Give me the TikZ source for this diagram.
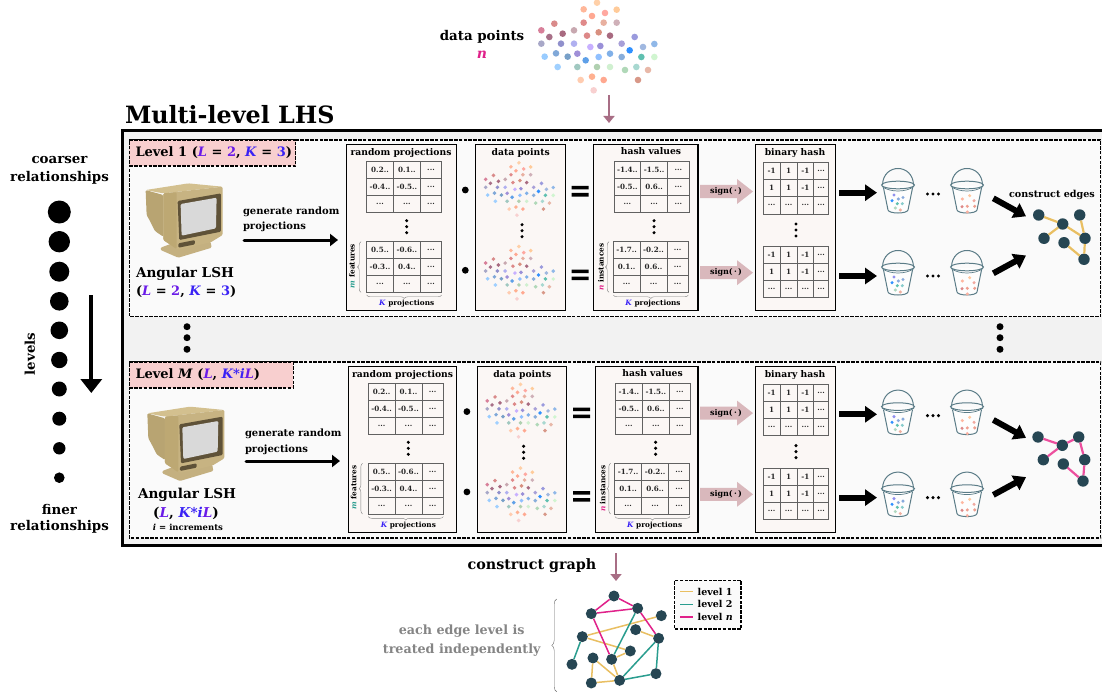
\documentclass[tikz,border=0pt]{standalone}
\usepackage{fontspec}
\setmainfont{DejaVu Serif}
\usetikzlibrary{arrows.meta,decorations.pathreplacing}
\definecolor{nodeC}{HTML}{264653}
\definecolor{goldC}{HTML}{E9BF62}
\definecolor{tealC}{HTML}{2A9D8F}
\definecolor{pinkC}{HTML}{E0218A}
\definecolor{pinkE}{HTML}{EC4F9E}
\definecolor{purpC}{HTML}{6A1BE8}
\definecolor{blueC}{HTML}{3A22F5}
\definecolor{mauveC}{HTML}{A86E85}
\definecolor{signC}{HTML}{D9B8BC}
\definecolor{tagC}{HTML}{F8CFCF}
\definecolor{panelC}{HTML}{FBF7F5}
\definecolor{bucketC}{HTML}{5B7C87}
\definecolor{beigeD}{HTML}{B8A472}
\definecolor{beigeS}{HTML}{BDA873}
\definecolor{beigeF}{HTML}{C4B080}
\definecolor{beigeL}{HTML}{D3C08F}
\definecolor{beigeM}{HTML}{C7B382}
\definecolor{beigeDD}{HTML}{5F5238}
\newcounter{nid}
\newcommand\fsz[1]{\fontsize{#1}{#1}\selectfont\bfseries}
\newcommand\vL{\textcolor{purpC}{\textit{L}}}
\newcommand\vK{\textcolor{blueC}{\textit{K}}}
\def\ddd{...}
\tikzset{
  x=1pt,y=-1pt,
  auto name/.code={\stepcounter{nid}\tikzset{name=auto\arabic{nid}}},
  every node/.append style={auto name,inner sep=0pt,outer sep=0pt},
  txt/.style={font=\fsz{#1}},
  gridline/.style={draw=black!62,line width=0.9pt},
  cell/.style={font=\fsz{7.2},text=black!85},
  panelbox/.style={draw=black,line width=1.3pt,fill=panelC},
  levelbox/.style={draw=black,line width=1.2pt,dash pattern=on 3.5pt off 1.3pt,fill=white!98!black},
  tagbox/.style={draw=black,line width=1.1pt,dash pattern=on 3.5pt off 1.3pt,fill=tagC},
  thickarrow/.style={line width=6pt,-{Triangle[length=12pt,width=16pt]}},
  genarrow/.style={line width=3pt,line cap=round,-{Triangle[length=8pt,width=12pt]}},
  mauvearrow/.style={draw=mauveC,line width=2.4pt,-{Triangle[length=7pt,width=11pt]}},
  gnode/.style={circle,fill=nodeC,minimum size=#1},
  thinbrace/.style={draw=black!50,line width=0.4pt,decorate,decoration={brace,amplitude=3.5pt}},
}
\newcommand\cloud[3]{%
\begin{scope}[shift={(#1,#2)},scale=#3]
\foreach \x/\y/\c in {531/8/FFD0A8,491/28/FFB79A,590/29/FFCB9A,516/48/FFA892,555/39/FFA8A0,403/71/D98A8A,491/68/E08A8A,551/68/E8B0A0,590/68/CFB0B8,364/91/D8809A,388/111/A87088,428/101/A86A80,462/91/C8A8B0,501/107/DD8888,536/97/D89080,570/107/A86A80,644/111/9A9ADD,364/131/A8A8C8,423/131/9090CC,462/131/B0B0F0,511/141/C8B0FF,541/138/9A90D8,605/131/A8A0D8,669/141/A0B8E0,703/132/90B8E8,629/151/3090FF,374/170/99CCFF,408/160/80A8D8,443/170/78A0C8,472/161/A090D8,497/181/5FA0E8,536/171/90C0FF,570/161/80B0E8,605/171/88AEDB,664/171/5FC0B0,703/171/D0F5D0,413/201/A0D0FF,472/201/A0C8C0,531/201/B0D0B0,570/201/D0F0D0,615/210/B0D8B8,649/201/A8D8D0,684/210/E8B8A8,482/240/FFCCB0,516/230/FFB090,551/240/FFA890,654/240/D89888,521/271/F8D0D0}{
  \definecolor{tmpc}{HTML}{\c}
  \fill[tmpc] ({\x/3},{\y/3}) circle[radius=3.3];
}
\end{scope}}
\newcommand\matA[6]{%
\begin{scope}[shift={(#1,#2)}]
\draw[gridline] (0,0) rectangle (75,51) (26.7,0)--(26.7,51) (53.7,0)--(53.7,51) (0,17)--(75,17) (0,34)--(75,34);
\node[cell] at (13.3,8.5) {#3};
\node[cell] at (40.2,8.5) {#4};
\node[cell] at (64.3,8.5) {...};
\node[cell] at (13.3,25.5) {#5};
\node[cell] at (40.2,25.5) {#6};
\node[cell] at (64.3,25.5) {...};
\node[cell] at (13.3,42.5) {...};
\node[cell] at (40.2,42.5) {...};
\node[cell] at (64.3,42.5) {...};
\end{scope}}
\newcommand\matB[2]{%
\begin{scope}[shift={(#1,#2)}]
\draw[gridline] (0,0) rectangle (65.7,51.3) (17,0)--(17,51.3) (34,0)--(34,51.3) (50.7,0)--(50.7,51.3) (0,17.1)--(65.7,17.1) (0,34.2)--(65.7,34.2);
\foreach \xx/\yy/\tt in {8.5/8.5/-1,25.5/8.5/1,42.3/8.5/-1,58.2/8.5/\ddd,8.5/25.6/1,25.5/25.6/1,42.3/25.6/-1,58.2/25.6/\ddd,8.5/42.7/\ddd,25.5/42.7/\ddd,42.3/42.7/\ddd,58.2/42.7/\ddd}{
  \node[cell] at (\xx,\yy) {\tt};
}
\end{scope}}
\newcommand\vdotsp[2]{\foreach \d in {-6,0,6}{\fill[black] (#1,{#2+\d}) circle[radius=1.7];}}
\newcommand\equalsign[2]{\fill[black] (#1-8.5,#2-5.5) rectangle (#1+8.5,#2-2) (#1-8.5,#2+1.5) rectangle (#1+8.5,#2+5);}
\newcommand\signarrow[2]{%
\fill[signC] (#1,#2-6.5) -- (#1+37,#2-6.5) -- (#1+37,#2-12.5) -- (#1+53,#2) -- (#1+37,#2+12.5) -- (#1+37,#2+6.5) -- (#1,#2+6.5) -- cycle;
\node[txt=8] at (#1+26,#2) {sign(\,·\,)};}
\newcommand\bucket[3]{%
\begin{scope}[shift={(#1,#2)}]
\fill[white,opacity=.6] (-15,18) -- (-10,42) .. controls (-9,46) and (9,46) .. (10,42) -- (15,18) -- cycle;
\draw[bucketC,line width=1pt] (-15.5,17) .. controls (-15,-5) and (15,-5) .. (15.5,17);
\draw[bucketC,line width=1pt] (0,17) ellipse[x radius=16.5,y radius=3.8];
\draw[bucketC,line width=0.7pt] (-16,18.5) .. controls (-8,24.5) and (8,24.5) .. (16,18.5);
\draw[bucketC,line width=1pt] (-14.5,20) -- (-10,42) .. controls (-9,46) and (9,46) .. (10,42) -- (14.5,20);
\foreach \x/\y/\c in #3 {\definecolor{tmpc}{HTML}{\c}\fill[tmpc] (\x,\y) circle[radius=1.7];}
\end{scope}}
\def\blueDots{-4/27/9090EE,0.3/31/88AADD,5/29.5/88AADD,-6/32.7/3090FF,-0.7/35.7/5FC0B0,4.3/35.7/88CCCC,-2.7/40/B0D8C0,2.3/42/F0B0A0}
\def\redDots{-4.7/31/FFB7A0,2.7/27.7/FFC8A0,7/32.7/F0A8A0,7.7/38.3/EEA090,0.3/38.3/F0A090,-5/38.7/DD8888,0.3/44/F8B0A0}
\newcommand\computer[2]{%
\begin{scope}[shift={(#1,#2)},scale=0.3333,rounded corners=1.2pt]
\fill[fill=beigeF] (112,228) -- (165,208) -- (262,210) -- (265,228) -- (165,258) -- (112,235) -- cycle;
\fill[fill=beigeD] (67,55) -- (120,70) -- (120,195) -- (95,178) -- (80,148) -- (70,130) -- cycle;
\fill[fill=beigeL] (67,55) -- (195,35) -- (298,45) -- (120,65) -- cycle;
\fill[fill=beigeM] (120,65) -- (298,45) -- (298,190) -- (262,212) -- (165,234) -- (120,205) -- cycle;
\fill[fill=beigeS] (120,65) -- (160,62) -- (160,232) -- (120,205) -- cycle;
\fill[fill=beigeDD] (163,88) -- (293,65) -- (293,180) -- (168,205) -- cycle;
\fill[fill=black!15] (172,97) -- (280,78) -- (278,170) -- (175,192) -- cycle;
\fill[fill=beigeDD] (165,215) -- (215,205) -- (215,218) -- (165,228) -- cycle;
\end{scope}}
% one level row; #1 prefix, #2 box dy, #3 content dy, #4 left dx
\newcommand\levelrow[4]{%
\draw[panelbox] ({346.3+#4},{144.3+#2}) rectangle (456.3,{310.3+#2});
\draw[panelbox] ({475.7+#4},{144.3+#2}) rectangle ({565.7+#4/2},{310.3+#2});
\draw[panelbox] ({593.7+#4},{144.3+#2}) rectangle (698,{310.3+#2});
\draw[panelbox] (755.3,{144.3+#2}) rectangle (835.7,{310.3+#2});
\begin{scope}[shift={(#4*0.8,#3)}]
\node[txt=9.2] at (401,153) {random projections};
\node[txt=9.2] at (520.7,153) {data points};
\node[txt=9.2] at (651,151.5) {hash values};
\matA{366.7}{161.7}{0.2..}{0.1..}{-0.4..}{-0.5..}
\vdotsp{406.7}{226.7}
\matA{366.7}{241.7}{0.5..}{-0.6..}{-0.3..}{0.4..}
\draw[thinbrace] (361,292.3) -- (361,241.7);
\draw[thinbrace] (441.7,295) -- (366.7,295);
\node[txt=7.3,rotate=90] at (352,266) {\textcolor{tealC}{\textit{m}} features};
\node[txt=7.3] at (406.7,304) {\textcolor{blueC}{\textit{K}} projections};
\cloud{413.1}{161.2}{0.598}
\vdotsp{522}{230.7}
\cloud{413.1}{244.9}{0.598}
\fill[black] (465.3,190) circle[radius=3.4];
\fill[black] (465.3,270.3) circle[radius=3.4];
\equalsign{580}{191.5}
\equalsign{580}{275}
\matA{614}{161.7}{-1.4..}{-1.5..}{-0.5..}{0.6..}
\vdotsp{654}{226.7}
\matA{613.3}{241.7}{-1.7..}{-0.2..}{0.1..}{0.6..}
\draw[thinbrace] (609,292.3) -- (609,241.7);
\draw[thinbrace] (688.3,295) -- (613.3,295);
\node[txt=7.3,rotate=90] at (601,267) {\textcolor{pinkC}{\textit{n}} instances};
\node[txt=7.3] at (653,304) {\textcolor{blueC}{\textit{K}} projections};
\end{scope}
\begin{scope}[shift={(0,#3)}]
\signarrow{700}{191.5}
\signarrow{700}{272.7}
\node[txt=9.2] at (795,153) {binary hash};
\matB{763}{162.7}
\vdotsp{796}{230}
\matB{763}{246.5}
\coordinate (#1t1s) at (839,192.7);
\coordinate (#1t1e) at (877,192.7);
\coordinate (#1t2s) at (839,276);
\coordinate (#1t2e) at (877,276);
\draw[thickarrow] (#1t1s) -- (#1t1e);
\draw[thickarrow] (#1t2s) -- (#1t2e);
\bucket{898}{168}{\blueDots}
\bucket{967}{168}{\redDots}
\bucket{898}{250}{\blueDots}
\bucket{967}{250}{\redDots}
\foreach \yy in {194,276}{\foreach \xx in {927.5,933,938.5}{\fill[black] (\xx,\yy) circle[radius=1.7];}}
\coordinate (#1d1s) at (993.3,198.3);
\coordinate (#1d1e) at (1026,216.3);
\coordinate (#1d2s) at (993.3,273.3);
\coordinate (#1d2e) at (1026,255.5);
\draw[thickarrow] (#1d1s) -- (#1d1e);
\draw[thickarrow] (#1d2s) -- (#1d2e);
\end{scope}}
\begin{document}
\begin{tikzpicture}
\useasboundingbox (0,0) rectangle (1102,695);
\fill[white] (0,0) rectangle (1102,695);
% outer frame
\fill[black!5] (122,130.5) rectangle (1102,545);
\draw[black,line width=3pt] (1102,130.5) -- (122,130.5) -- (122,545) -- (1102,545);
\node[txt=23.8,anchor=west] (title) at (125,114.5) {Multi-level LHS};
% top data points
\node[txt=13.4] (dp) at (482,37) {data points};
\node[txt=14,text=pinkC] (dpn) at (482,55) {\textit{n}};
\cloud{420}{0}{1}
\coordinate (ta) at (609,95);
\coordinate (tb) at (609,123);
\draw[mauvearrow] (ta) -- (tb);
% level boxes
\draw[levelbox] (129.3,140) rectangle (1100.7,316.7);
\draw[levelbox] (129.3,362) rectangle (1100.7,538);
\node[tagbox,minimum width=166.4pt,minimum height=26pt,anchor=north west] (tag1) at (129.3,140) {};
\node[txt=13,anchor=west] (tag1t) at (135.5,153) {Level 1 (\vL{} = \textcolor{purpC}{2}, \vK{} = \textcolor{blueC}{3})};
\node[tagbox,minimum width=164pt,minimum height=26pt,anchor=north west] (tagM) at (129.3,362) {};
\node[txt=13,anchor=west] (tagMt) at (135.5,375) {Level \textit{M} (\vL, \textcolor{blueC}{\textit{K*i}}\vL)};
% level 1 left
\computer{123.3}{171.7}
\node[txt=10,anchor=west] (g1) at (243,212) {generate random};
\node[txt=10,anchor=west] (g2) at (243,227) {projections};
\coordinate (g1s) at (244,240);
\coordinate (g1e) at (338,240);
\draw[genarrow] (g1s) -- (g1e);
\node[txt=13.6,anchor=west] (ang1) at (136,274) {Angular LSH};
\node[txt=13,anchor=west] (ang1b) at (136,292) {(\vL{} = \textcolor{purpC}{2}, \vK{} = \textcolor{blueC}{3})};
% level M left
\computer{125}{395}
\node[txt=10,anchor=west] (gm1) at (245,434) {generate random};
\node[txt=10,anchor=west] (gm2) at (245,450) {projections};
\coordinate (gms) at (246,461);
\coordinate (gme) at (340,461);
\draw[genarrow] (gms) -- (gme);
\node[txt=13.6,anchor=west] (angm) at (138,495) {Angular LSH};
\node[txt=13.6] (angmb) at (186,513) {(\vL, \textcolor{blueC}{\textit{K*i}}\vL)};
\node[txt=8.5] (angmi) at (188,527.5) {\textit{i} = increments};
% rows
\levelrow{A}{0}{0}{0}
\levelrow{B}{222.4}{221.6}{2}
% construct edges
\node[txt=9.6] (ce) at (1052,194.5) {construct edges};
% graphs
\begin{scope}[every node/.append style={gnode=11.4pt}]
\node (a1) at (1038.7,215) {};
\node (a2) at (1079.7,215) {};
\node (a3) at (1062.7,224) {};
\node (a4) at (1044,238.3) {};
\node (a5) at (1085,238.3) {};
\node (a6) at (1064,242.7) {};
\node (a7) at (1084,259.3) {};
\node (b1) at (1038,437) {};
\node (b2) at (1078.7,437) {};
\node (b3) at (1062.3,445.3) {};
\node (b4) at (1043.3,459.7) {};
\node (b5) at (1084.7,459.7) {};
\node (b6) at (1063.3,464) {};
\node (b7) at (1083,481) {};
\end{scope}
\draw[goldC,line width=2.2pt] (a1) -- (a3) (a3) -- (a4) (a3) -- (a5) (a2) -- (a5) (a5) -- (a7) (a6) -- (a7);
\draw[pinkE,line width=2.2pt] (b1) -- (b3) (b3) -- (b2) (b3) -- (b4) (b2) -- (b5) (b5) -- (b7) (b6) -- (b7);
% left column
\node[txt=13.4] (c1) at (59.5,160) {coarser};
\node[txt=13.4] (c2) at (59.5,178) {relationships};
\foreach \yy/\r in {212/11.5,241.7/10.7,271.7/10,301.3/9.3,330.3/8.8,360/8.2,389/7.5,418.7/7,448.3/6.2,477.7/5.3}{\fill[black] (59.3,\yy) circle[radius=\r];}
\coordinate (lva) at (91.3,295);
\coordinate (lvb) at (91.3,393);
\draw[black,line width=4pt,-{Triangle[length=14pt,width=21pt]}] (lva) -- (lvb);
\node[txt=13.4,rotate=90] (lv) at (30,354) {levels};
\node[txt=13.4] (f1) at (59.5,509) {finer};
\node[txt=13.4] (f2) at (59.5,527) {relationships};
% construct graph
\node[txt=14.3] (cg) at (532,566) {construct graph};
\coordinate (ga) at (616,553);
\coordinate (gb) at (616,581);
\draw[mauvearrow] (ga) -- (gb);
% big graph
\begin{scope}[shift={(370,545)},scale=0.3333]
\begin{scope}[every node/.append style={gnode=11pt}]
\node (na) at (732,153) {};
\node (nb) at (664,206) {};
\node (nc) at (803,190) {};
\node (nd) at (874,212) {};
\node (ne) at (797,254) {};
\node (nf) at (866,280) {};
\node (ng) at (637,275) {};
\node (nh) at (781,318) {};
\node (ni) at (606,358) {};
\node (nj) at (669,339) {};
\node (nk) at (725,343) {};
\node (nl) at (664,414) {};
\node (nm) at (749,406) {};
\node (nn) at (858,386) {};
\end{scope}
\draw[goldC,line width=1.5pt] (ng)--(nd) (ng)--(nh) (ne)--(nf) (nh)--(nk) (nj)--(nl) (nj)--(nm) (nl)--(nm) (nk)--(nm);
\draw[tealC,line width=1.5pt] (ng)--(ni) (nc)--(nk) (nf)--(nm) (nf)--(nn) (nm)--(nn);
\draw[pinkC,line width=1.5pt] (na)--(nb) (na)--(nc) (nb)--(nc) (nb)--(nk) (nc)--(nf);
\end{scope}
\draw[draw=black!60,line width=0.4pt,decorate,decoration={brace,amplitude=5pt}] (556.7,691.7) -- (556.7,599);
\node[txt=12.7,text=black!48] (e1) at (461.7,631.5) {each edge level is};
\node[txt=12.7,text=black!48] (e2) at (461.7,650) {treated independently};
% legend
\node[draw=black,line width=1.1pt,dash pattern=on 3.5pt off 1.3pt,fill=black!2,minimum width=66.3pt,minimum height=48.7pt,anchor=north west] (leg) at (674.7,580.3) {};
\coordinate (l1a) at (680,591.7); \coordinate (l1b) at (692.7,591.7);
\coordinate (l2a) at (680,604.3); \coordinate (l2b) at (692.7,604.3);
\coordinate (l3a) at (680,617);   \coordinate (l3b) at (692.7,617);
\draw[goldC,line width=1.5pt] (l1a) -- (l1b);
\draw[tealC,line width=1.5pt] (l2a) -- (l2b);
\draw[pinkC,line width=1.5pt] (l3a) -- (l3b);
\node[txt=9.5,anchor=west] (lt1) at (697.7,591.7) {level 1};
\node[txt=9.5,anchor=west] (lt2) at (697.7,604.3) {level 2};
\node[txt=9.5,anchor=west] (lt3) at (697.7,617) {level \textit{n}};
% dots between levels
\foreach \yy in {326.7,337.7,349.3}{\fill[black] (187,\yy) circle[radius=3.5];}
\foreach \yy in {326.7,337.7,349.3}{\fill[black] (1000,\yy) circle[radius=3.5];}
\end{tikzpicture}
\end{document}
